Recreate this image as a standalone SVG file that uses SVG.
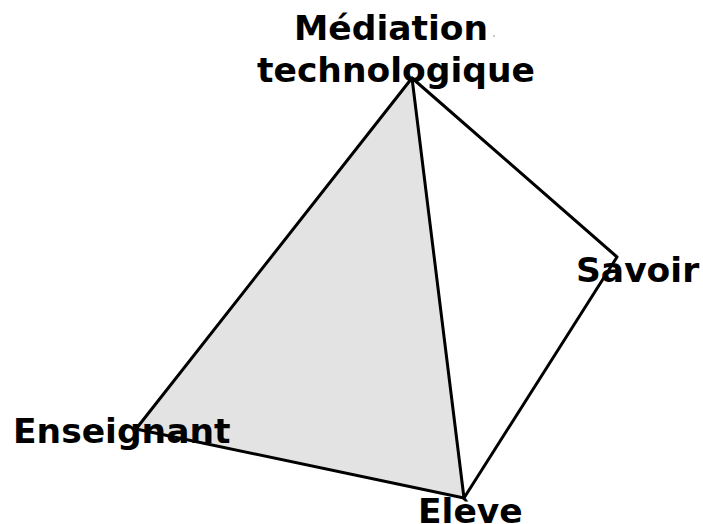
<svg xmlns="http://www.w3.org/2000/svg" width="703" height="524" viewBox="0 0 703 524">
<style>
.lbl{font-family:"DejaVu Sans",Verdana,sans-serif;font-weight:bold;font-size:34.5px;fill:#000}
.edge{stroke:#000;stroke-width:3;fill:none;stroke-linejoin:round;stroke-linecap:round}
</style>
<rect width="703" height="524" fill="#fff"/>
<g id="node-eleve"><text class="lbl" x="418" y="523">Elève</text></g>
<g id="face"><polygon points="412,78 136,429 464,498" fill="#e3e3e3"/></g>
<g id="node-mediation"><text class="lbl" x="294" y="40">Médiation</text><text class="lbl" x="257" y="82">technologique</text><circle cx="494" cy="36" r="0.8" fill="#888"/></g>
<g id="node-savoir"><text class="lbl" x="576" y="282">Savoir</text></g>
<g id="node-enseignant"><text class="lbl" x="13" y="443">Enseignant</text></g>
<g id="connectors">
<path class="edge" d="M412,78 L136,429 L464,498 Z"/>
<path class="edge" d="M412,78 L617,257 L464,498"/>
</g>
</svg>
